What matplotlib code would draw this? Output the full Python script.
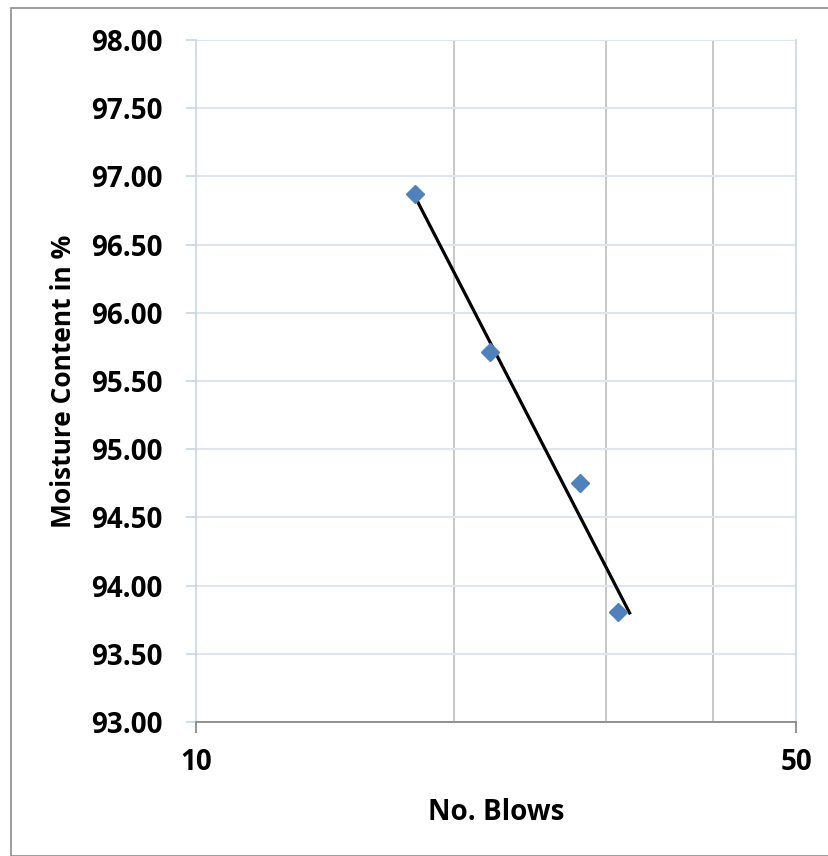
import matplotlib
matplotlib.use('Agg')
import matplotlib.pyplot as plt
from matplotlib.patches import Rectangle
from matplotlib.ticker import FixedLocator, FormatStrFormatter, NullFormatter

# blows vs moisture content (liquid limit test)
blows = [18, 22, 28, 31]
moisture = [96.87, 95.71, 94.75, 93.81]

# flow line end points
line_blows = [18, 32]
line_moisture = [96.85, 93.80]

y_ticks = [93.0, 93.5, 94.0, 94.5, 95.0, 95.5, 96.0, 96.5, 97.0, 97.5, 98.0]

plt.rcParams['font.family'] = ['Open Sans', 'DejaVu Sans']
plt.rcParams['font.weight'] = 'bold'

fig = plt.figure(figsize=(8.29, 8.56), dpi=100)
ax = fig.add_axes([0.2364, 0.1565, 0.7238, 0.7968])

# chart area border
fig.patches.append(Rectangle((11 / 829, 0), 1, 1 - 8 / 856, transform=fig.transFigure,
                             fill=False, edgecolor='#8c8c8c', linewidth=1.2, zorder=0))

ax.plot(line_blows, line_moisture, color='black', linewidth=2.3, zorder=3)
ax.plot(blows, moisture, linestyle='none', marker='D', markersize=9,
        color='#4F81BD', zorder=4)

ax.set_xscale('log')
ax.set_xlim(10, 50)
ax.set_ylim(93, 98)

ax.xaxis.set_major_locator(FixedLocator([10, 50]))
ax.xaxis.set_minor_locator(FixedLocator([20, 30, 40]))
ax.xaxis.set_major_formatter(FormatStrFormatter('%d'))
ax.xaxis.set_minor_formatter(NullFormatter())
ax.set_yticks(y_ticks)
ax.yaxis.set_major_formatter(FormatStrFormatter('%.2f'))

ax.grid(axis='y', color='#dce6f2', linewidth=1.5)
ax.grid(axis='x', which='minor', color='#bfbfbf', linewidth=1.2)
ax.set_axisbelow(True)

for side in ['left', 'right', 'top']:
    ax.spines[side].set_color('#c6d5ea')
    ax.spines[side].set_linewidth(1.2)
ax.spines['top'].set_visible(False)
ax.spines['bottom'].set_color('#808080')
ax.spines['bottom'].set_linewidth(1.2)

ax.tick_params(axis='y', colors='#c6d5ea', length=7, width=1.2, labelcolor='black',
               labelsize=20, pad=17)
ax.tick_params(axis='x', which='major', color='#808080', length=8, width=1.2,
               labelsize=20, pad=11)
ax.tick_params(axis='x', which='minor', length=0)
for lbl in ax.get_xticklabels() + ax.get_yticklabels():
    lbl.set_fontweight('bold')

ax.set_xlabel('No. Blows', fontsize=20, fontweight='bold')
ax.set_ylabel('Moisture Content in %', fontsize=19, fontweight='bold')
ax.xaxis.set_label_coords(0.5, -0.111)
ax.yaxis.set_label_coords(-0.198, 0.5)

fig.savefig('out.png', dpi=100)
